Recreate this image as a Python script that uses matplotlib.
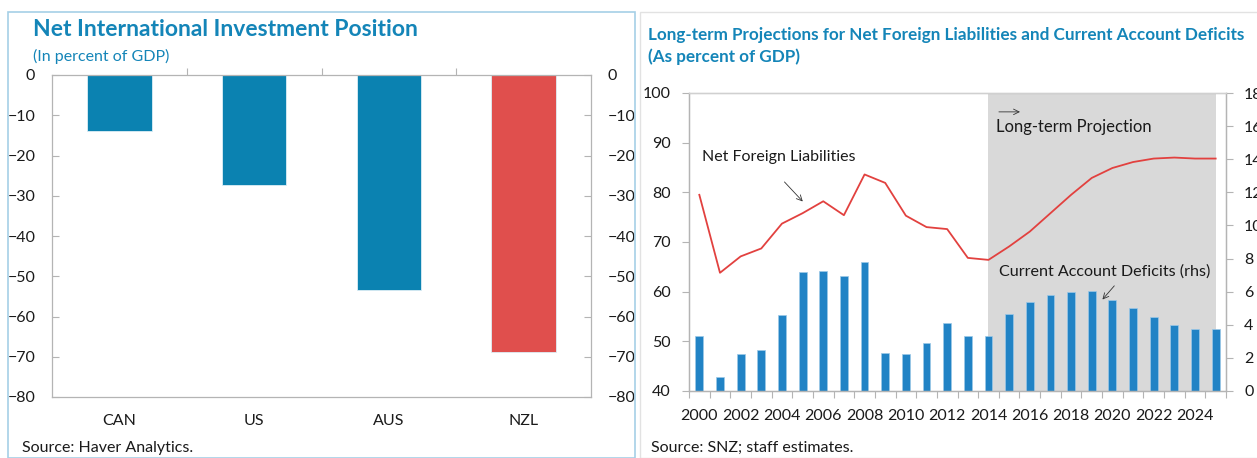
import numpy as np
import matplotlib
matplotlib.use("Agg")
from matplotlib import pyplot as plt
from matplotlib.patches import Rectangle

plt.rcParams['font.family'] = ['Lato', 'DejaVu Sans']

# left panel data
countries = ['CAN', 'US', 'AUS', 'NZL']
niip = [-13.9, -27.3, -53.4, -68.8]
niip_colors = ['#0B82B1', '#0B82B1', '#0B82B1', '#E04F4D']

# right panel data
years = list(range(2000, 2026))
net_foreign_liab = [79.5, 63.8, 67.1, 68.7, 73.7, 75.8, 78.2, 75.4, 83.6, 81.9,
                    75.3, 73.0, 72.6, 66.8, 66.4, 69.1, 72.1, 75.8, 79.5, 82.9,
                    84.9, 86.1, 86.8, 87.0, 86.8, 86.8]
ca_deficit = [3.34, 0.85, 2.23, 2.5, 4.61, 7.17, 7.23, 6.93, 7.81, 2.30,
              2.25, 2.9, 4.1, 3.34, 3.3, 4.65, 5.4, 5.8, 6.0, 6.04,
              5.52, 5.0, 4.49, 3.99, 3.76, 3.76]
proj_start = 2014

title_blue = '#1485B8'
spine_gray = '#B4B4B4'
text_col = '#1A1A1A'
fs = 11.5

W, H = 1257, 458
fig = plt.figure(figsize=(W / 100, H / 100), dpi=100)

# panel frames
fig.patches.append(Rectangle((8 / W, 0), 627 / W, 1 - 12 / H, transform=fig.transFigure,
                             fill=False, edgecolor='#A6CFE6', linewidth=1.2))
fig.patches.append(Rectangle((640 / W, 0), 620 / W, 1 - 12 / H, transform=fig.transFigure,
                             fill=False, edgecolor='#E2E2E2', linewidth=1.0))

# ---------------- left panel ----------------
ax = fig.add_axes([52 / W, 61 / H, 539 / W, 322 / H])
x = np.arange(len(countries))
ax.bar(x, niip, width=0.48, color=niip_colors, edgecolor='#DDEEF6', linewidth=0.6)
ax.set_xlim(-0.5, len(countries) - 0.5)
ax.set_ylim(-80, 0)
ax.set_yticks(np.arange(-80, 1, 10))
ax.tick_params(axis='y', which='both', direction='in', length=5, width=0.8, color=spine_gray,
               left=True, right=True, labelleft=True, labelright=True,
               pad=12, labelsize=fs, labelcolor=text_col)
ax.set_xticks(x)
ax.set_xticklabels(countries)
ax.tick_params(axis='x', which='major', length=0, pad=12, labelsize=fs, labelcolor=text_col)
ax.set_xticks(np.arange(0.5, len(countries) - 1, 1), minor=True)
ax.tick_params(axis='x', which='minor', top=True, bottom=False, direction='out',
               length=5, width=0.8, color=spine_gray)
for s in ax.spines.values():
    s.set_color(spine_gray)
    s.set_linewidth(0.9)

fig.text(33 / W, 1 - 30 / H, 'Net International Investment Position', fontsize=16.5,
         fontweight='bold', color=title_blue, va='center', ha='left')
fig.text(33 / W, 1 - 56 / H, '(In percent of GDP)', fontsize=fs,
         color=title_blue, va='center', ha='left')
fig.text(22 / W, 1 - 448 / H, 'Source: Haver Analytics.', fontsize=fs,
         color=text_col, va='center', ha='left')

# ---------------- right panel ----------------
axl = fig.add_axes([689 / W, 67 / H, 537 / W, 298 / H])
axb = axl.twinx()
xi = np.arange(len(years))
p0 = years.index(proj_start)
axb.axvspan(p0, len(years) - 1, color='#D9D9D9', zorder=0, linewidth=0)
axb.bar(xi, ca_deficit, width=0.38, color='#2183C5', edgecolor='#9CC9E8', linewidth=0.5, zorder=2)
axb.set_ylim(0, 18)
axb.set_yticks(np.arange(0, 19, 2))

axl.set_zorder(axb.get_zorder() + 1)
axl.patch.set_visible(False)
axl.plot(xi, net_foreign_liab, color='#E2413F', linewidth=1.3, zorder=3)
axl.set_ylim(40, 100)
axl.set_yticks(np.arange(40, 101, 10))
axl.set_xlim(-0.5, len(years) - 0.5)

axl.set_xticks(xi[::2])
axl.set_xticklabels([str(y) for y in years[::2]])
axl.tick_params(axis='x', which='major', length=0, pad=13, labelsize=fs, labelcolor=text_col)
axl.set_xticks(np.arange(-0.5, len(years), 1), minor=True)
axl.tick_params(axis='x', which='minor', direction='out', length=5, width=0.8, color=spine_gray)
axl.tick_params(axis='y', direction='out', length=5, width=0.8, color=spine_gray,
                pad=8, labelsize=fs, labelcolor=text_col)
axb.tick_params(axis='y', direction='out', length=5, width=0.8, color=spine_gray,
                pad=8, labelsize=fs, labelcolor=text_col)
for a in (axl, axb):
    for s in a.spines.values():
        s.set_color(spine_gray)
        s.set_linewidth(0.9)
axl.spines['top'].set_color('#D0D0D0')

# annotations
axl.text(0.13, 87.1, 'Net Foreign Liabilities', fontsize=fs, color=text_col, va='center', ha='left')
axl.annotate('', xy=(5.1, 77.75), xytext=(4.03, 82.5),
             arrowprops=dict(arrowstyle='->', color='#333333', lw=0.6))
axl.text(14.37, 93.2, 'Long-term Projection', fontsize=12, color=text_col, va='center', ha='left')
axl.annotate('', xy=(15.66, 96.2), xytext=(14.37, 96.2),
             arrowprops=dict(arrowstyle='->', color='#333333', lw=0.6))
axl.text(14.53, 64.0, 'Current Account Deficits (rhs)', fontsize=11.6, color=text_col,
         va='center', ha='left')
axl.annotate('', xy=(19.43, 58.0), xytext=(20.18, 61.6),
             arrowprops=dict(arrowstyle='->', color='#333333', lw=0.6))

fig.text(648 / W, 1 - 35 / H,
         'Long-term Projections for Net Foreign Liabilities and Current Account Deficits',
         fontsize=12.3, fontweight='bold', color=title_blue, va='center', ha='left')
fig.text(648 / W, 1 - 57 / H, '(As percent of GDP)', fontsize=12.3,
         fontweight='bold', color=title_blue, va='center', ha='left')
fig.text(651 / W, 1 - 448 / H, 'Source: SNZ; staff estimates.', fontsize=fs,
         color=text_col, va='center', ha='left')

fig.savefig('out.png', dpi=100)
